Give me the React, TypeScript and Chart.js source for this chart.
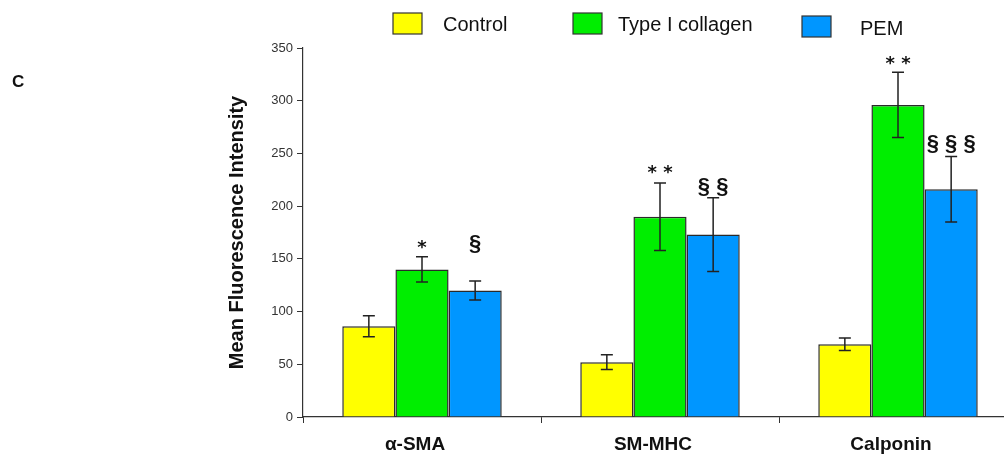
import React, { useEffect, useRef } from "react";
import { Chart, registerables } from "chart.js";

Chart.register(...registerables);

const categories = ["α-SMA", "SM-MHC", "Calponin"];
const seriesNames = ["Control", "Type I collagen", "PEM"];
const controlValues = [86, 52, 69];
const collagenValues = [140, 190, 296];
const pemValues = [120, 173, 216];
const controlErrors = [10, 7, 6];
const collagenErrors = [12, 32, 31];
const pemErrors = [9, 35, 31];
const collagenMarks = ["*", "* *", "* *"];
const pemMarks = ["§", "§ §", "§ § §"];
const collagenMarkY = [163, 234, 337];
const pemMarkY = [164, 218, 259];
const yMin = 0;
const yMax = 350;
const yStep = 50;

const seriesColors = ["#FFFF00", "#00EE00", "#0096FF"];
const FONT = "'Liberation Sans', Arial, sans-serif";

const errorSets = [controlErrors, collagenErrors, pemErrors];
const markSets = [null, collagenMarks, pemMarks];
const markYSets = [null, collagenMarkY, pemMarkY];

const legendLayout = [
  { box: 393, boxY: 13, text: 443, textY: 25 },
  { box: 573, boxY: 13, text: 618, textY: 25 },
  { box: 802, boxY: 16, text: 860, textY: 29 },
];

const extrasPlugin = {
  id: "extras",
  afterDatasetsDraw(chart: any) {
    const ctx = chart.ctx;
    const yScale = chart.scales.y;
    ctx.save();
    chart.data.datasets.forEach((ds: any, i: number) => {
      const meta = chart.getDatasetMeta(i);
      meta.data.forEach((bar: any, j: number) => {
        const v = ds.data[j];
        const e = errorSets[i][j];
        const x = bar.x;
        const yt = yScale.getPixelForValue(v + e);
        const yb = yScale.getPixelForValue(v - e);
        ctx.strokeStyle = "#222";
        ctx.lineWidth = 1.5;
        ctx.beginPath();
        ctx.moveTo(x, yt);
        ctx.lineTo(x, yb);
        ctx.moveTo(x - 6, yt);
        ctx.lineTo(x + 6, yt);
        ctx.moveTo(x - 6, yb);
        ctx.lineTo(x + 6, yb);
        ctx.stroke();
        const marks = markSets[i];
        const markY = markYSets[i];
        if (marks && markY) {
          const isStar = marks[j].includes("*");
          ctx.fillStyle = "#111";
          ctx.textAlign = "center";
          ctx.textBaseline = "middle";
          ctx.font = isStar
            ? "bold 18px 'DejaVu Sans', sans-serif"
            : `bold 22px ${FONT}`;
          const my = yScale.getPixelForValue(markY[j]) + (isStar ? 3 : 0);
          ctx.fillText(marks[j], x, my);
        }
      });
    });
    ctx.restore();
  },
  afterDraw(chart: any) {
    const ctx = chart.ctx;
    ctx.save();
    chart.data.datasets.forEach((ds: any, i: number) => {
      const l = legendLayout[i];
      ctx.fillStyle = ds.backgroundColor;
      ctx.fillRect(l.box, l.boxY, 29, 21);
      ctx.strokeStyle = "#333";
      ctx.lineWidth = 1.2;
      ctx.strokeRect(l.box, l.boxY, 29, 21);
      ctx.fillStyle = "#111";
      ctx.font = `20px ${FONT}`;
      ctx.textAlign = "left";
      ctx.textBaseline = "middle";
      ctx.fillText(ds.label, l.text, l.textY);
    });
    ctx.font = `bold 17px ${FONT}`;
    ctx.fillStyle = "#111";
    ctx.textAlign = "left";
    ctx.textBaseline = "middle";
    ctx.fillText("C", 12, 82);
    ctx.restore();
  },
};

export default function App() {
  const ref = useRef<HTMLCanvasElement>(null);
  useEffect(() => {
    if (!ref.current) return;
    const chart = new Chart(ref.current, {
      type: "bar",
      data: {
        labels: categories,
        datasets: [controlValues, collagenValues, pemValues].map((d, i) => ({
          label: seriesNames[i],
          data: d,
          backgroundColor: seriesColors[i],
          borderColor: "#2a2a2a",
          borderWidth: 1.5,
          categoryPercentage: 0.67,
          barPercentage: 1.0,
        })),
      },
      options: {
        responsive: false,
        animation: false,
        layout: { padding: { top: 48, left: 225, right: 23, bottom: 0 } },
        plugins: { legend: { display: false }, tooltip: { enabled: false } },
        scales: {
          x: {
            offset: true,
            afterFit(scale: any) {
              scale.height = 41;
            },
            grid: {
              offset: true,
              drawOnChartArea: false,
              drawTicks: true,
              tickLength: 6,
              color: "#333",
            },
            border: { color: "#333", width: 1.2 },
            ticks: {
              color: "#111",
              font: { family: FONT, size: 19, weight: "bold" },
              padding: 10,
              labelOffset: -7,
            },
          },
          y: {
            min: yMin,
            max: yMax,
            afterFit(scale: any) {
              scale.width = 78;
            },
            grid: {
              drawOnChartArea: false,
              drawTicks: true,
              tickLength: 6,
              color: "#333",
            },
            border: { color: "#333", width: 1.2 },
            ticks: {
              stepSize: yStep,
              color: "#333",
              font: { family: FONT, size: 13 },
              padding: 4,
            },
            title: {
              display: true,
              text: "Mean Fluorescence Intensity",
              color: "#111",
              font: { family: FONT, size: 20, weight: "bold" },
              padding: { top: 0, bottom: 0 },
            },
          },
        },
      },
      plugins: [extrasPlugin],
    });
    return () => chart.destroy();
  }, []);
  return (
    <div
      style={{
        position: "fixed",
        left: 0,
        top: 0,
        width: 1004,
        height: 458,
        overflow: "hidden",
        background: "#fff",
      }}
    >
      <canvas ref={ref} width={1040} height={458} style={{ display: "block" }} />
    </div>
  );
}
